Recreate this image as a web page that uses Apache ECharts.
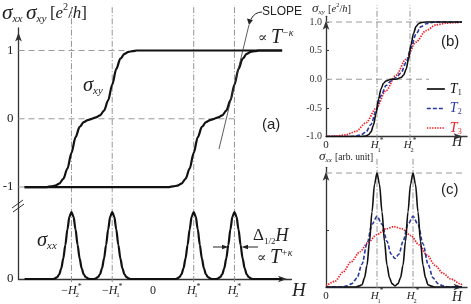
<!DOCTYPE html>
<html><head><meta charset="utf-8">
<script src="https://cdn.jsdelivr.net/npm/echarts@6/dist/echarts.min.js"></script>
<style>html,body{margin:0;padding:0;background:#fff}#c{width:471px;height:304px}</style>
</head><body><div id="c"></div>
<script>
// ================= DATA =================
// Panel (a): field axis, H*-positions in units of the axis
const aTickValues = [-2, -1, 0, 1, 2];
const aTickLabels = ['-H2*', '-H1*', '0', 'H1*', 'H2*'];
const aMarks = [-2, -1, 1, 2];
const aYTicks = [-1, 0, 1];
const aRefOne = [[-3.3, 1], [-0.7, 1]];
const aRefZero = [[-3.3, 0], [2.0, 0]];
const aRefMinus = [[-3.3, -1], [-3.1, -1]];
// sigma_xy, sweep with transitions at -H2*, -H1*
const sxyUp = [[-3.15,-1],[-2.6,-1],[-2.5,-0.99],[-2.4,-0.98],[-2.3,-0.95],[-2.2,-0.88],[-2.1,-0.73],[-2.0,-0.5],
  [-1.9,-0.27],[-1.8,-0.12],[-1.7,-0.05],[-1.6,-0.02],[-1.5,0],[-1.4,0.02],[-1.3,0.05],[-1.2,0.12],[-1.1,0.27],
  [-1.0,0.5],[-0.9,0.73],[-0.8,0.88],[-0.7,0.95],[-0.6,0.98],[-0.5,0.99],[-0.4,1],[3.17,1]];
// sigma_xy, sweep with transitions at H1*, H2*
const sxyDown = [[-3.15,-1],[0.4,-1],[0.5,-0.99],[0.6,-0.98],[0.7,-0.95],[0.8,-0.88],[0.9,-0.73],[1.0,-0.5],
  [1.1,-0.27],[1.2,-0.12],[1.3,-0.05],[1.4,-0.02],[1.5,0],[1.6,0.02],[1.7,0.05],[1.8,0.12],[1.9,0.27],
  [2.0,0.5],[2.1,0.73],[2.2,0.88],[2.3,0.95],[2.4,0.98],[2.5,0.99],[2.6,1],[3.17,1]];
// tangent ("SLOPE") line end points
const slopeLine = [[2.356, 1.374], [1.62, -0.443]];
// sigma_xx peaks
const sxxA = [[-3.15,0],[-2.45,0],[-2.4,0.01],[-2.35,0.03],[-2.3,0.07],[-2.25,0.16],[-2.2,0.31],[-2.15,0.51],[-2.1,0.74],[-2.05,0.93],[-2,1],
  [-1.95,0.93],[-1.9,0.74],[-1.85,0.51],[-1.8,0.31],[-1.75,0.16],[-1.7,0.07],[-1.65,0.03],[-1.6,0.01],[-1.55,0],
  [-1.45,0],[-1.4,0.01],[-1.35,0.03],[-1.3,0.07],[-1.25,0.16],[-1.2,0.31],[-1.15,0.51],[-1.1,0.74],[-1.05,0.93],[-1,1],
  [-0.95,0.93],[-0.9,0.74],[-0.85,0.51],[-0.8,0.31],[-0.75,0.16],[-0.7,0.07],[-0.65,0.03],[-0.6,0.01],[-0.55,0],
  [0.55,0],[0.6,0.01],[0.65,0.03],[0.7,0.07],[0.75,0.16],[0.8,0.31],[0.85,0.51],[0.9,0.74],[0.95,0.93],[1,1],
  [1.05,0.93],[1.1,0.74],[1.15,0.51],[1.2,0.31],[1.25,0.16],[1.3,0.07],[1.35,0.03],[1.4,0.01],[1.45,0],
  [1.55,0],[1.6,0.01],[1.65,0.03],[1.7,0.07],[1.75,0.16],[1.8,0.31],[1.85,0.51],[1.9,0.74],[1.95,0.93],[2,1],
  [2.05,0.93],[2.1,0.74],[2.15,0.51],[2.2,0.31],[2.25,0.16],[2.3,0.07],[2.35,0.03],[2.4,0.01],[2.45,0],[3.17,0]];

// Panel (b)
const bTickValues = [0, 5.1, 8.4];
const bTickLabels = ['0', 'H1*', 'H2*'];
const bMarks = [5.1, 8.4];
const bYTicks = [-1, -0.5, 0, 0.5, 1];
const bRefOne = [[0, 1], [13.5, 1]];
const bRefZero = [[0, 0], [10.3, 0]];
const bT1 = [[0,-1],[3,-1],[3.5,-1],[4,-0.99],[4.25,-0.97],[4.5,-0.92],[4.75,-0.8],[5,-0.6],[5.25,-0.35],[5.5,-0.17],
  [5.75,-0.07],[6,-0.03],[6.5,0],[7,0],[7.5,0.03],[7.75,0.07],[8,0.17],[8.25,0.35],[8.5,0.6],[8.75,0.8],[9,0.92],
  [9.25,0.97],[9.5,0.99],[10,1],[13.6,1]];
const bT2 = [[0,-1],[2,-1],[2.5,-1],[3,-0.99],[3.5,-0.97],[4,-0.92],[4.5,-0.79],[5,-0.55],[5.5,-0.29],[6,-0.11],
  [6.5,-0.03],[7,0.03],[7.5,0.11],[8,0.29],[8.5,0.55],[9,0.79],[9.5,0.92],[10,0.97],[10.5,0.99],[11,1],[13.6,1]];
const bT3 = [[0,-1],[1,-0.99],[2,-0.97],[3,-0.91],[4,-0.76],[5,-0.51],[6,-0.2],[7,0.07],[8,0.35],[9,0.65],[10,0.85],
  [11,0.95],[12,0.98],[13,0.99],[13.6,1]];

// Panel (c)
const cTickValues = [0, 5.1, 8.7];
const cTickLabels = ['0', 'H1*', 'H2*'];
const cMarks = [5.1, 8.7];
const cYTicks = [0.5];
const cRefOne = [[0, 1], [14, 1]];
const cT1 = [[0,0],[2.9,0],[3.35,0.01],[3.6,0.02],[3.85,0.08],[4.1,0.19],[4.35,0.4],[4.6,0.66],[4.85,0.9],[5.1,1],
  [5.35,0.9],[5.6,0.66],[5.85,0.4],[6.1,0.19],[6.35,0.08],[6.6,0.03],[6.9,0.01],[7.2,0.03],[7.45,0.08],[7.7,0.19],
  [7.95,0.4],[8.2,0.66],[8.45,0.9],[8.7,1],[8.95,0.9],[9.2,0.66],[9.45,0.4],[9.7,0.19],[9.95,0.08],[10.2,0.02],
  [10.45,0.01],[10.9,0],[13.6,0]];
const cT2 = [[0,0],[1.1,0],[1.6,0],[2.1,0.01],[2.6,0.03],[3.1,0.08],[3.6,0.2],[4.1,0.38],[4.6,0.55],[5.1,0.62],
  [5.6,0.55],[6.1,0.4],[6.5,0.29],[6.9,0.25],[7.3,0.29],[7.7,0.4],[8.2,0.55],[8.7,0.62],[9.2,0.55],[9.7,0.38],
  [10.2,0.2],[10.7,0.08],[11.2,0.03],[11.7,0.01],[12.2,0],[13.6,0]];
const cT3 = [[0,0.01],[0.9,0.05],[1.7,0.13],[2.5,0.22],[3.4,0.31],[4.2,0.39],[5.1,0.46],[6.0,0.51],[6.8,0.53],
  [7.6,0.51],[8.5,0.45],[9.3,0.37],[10.1,0.28],[10.9,0.19],[11.7,0.12],[12.5,0.07],[13.4,0.03],[13.6,0.02]];
const seriesNames = ['T1', 'T2', 'T3'];

// ================= STYLE =================
const SERIF = "'Liberation Serif','DejaVu Serif',serif";
const SANS = "'Liberation Sans','DejaVu Sans',sans-serif";
const TXT = '#222';
const AX = '#333';
const COL = {T1: '#111111', T2: '#2a38a0', T3: '#ee1c24'};
const DASH = {color: '#9a9a9a', width: 1, type: [6, 4]};
const DASHDOT = {color: '#8a8a8a', width: 0.9, type: [6, 2, 1.2, 2]};

function hLabel(lbl) {
  if (lbl === '0') return '{z|0}';
  const neg = lbl[0] === '-';
  const n = lbl.replace(/[^0-9]/g, '');
  return (neg ? '{m|−}' : '') + '{h|H}{s|' + n + '}{p|*}';
}
function richH(fs) {
  return {
    z: {fontFamily: SERIF, fontSize: fs, lineHeight: 16, color: TXT},
    m: {fontFamily: SERIF, fontSize: fs, lineHeight: 16, color: TXT},
    h: {fontFamily: SERIF, fontStyle: 'italic', fontSize: fs, lineHeight: 16, color: TXT},
    s: {fontFamily: SERIF, fontSize: fs * 0.58, lineHeight: 8, verticalAlign: 'bottom', width: 1, color: TXT},
    p: {fontFamily: SERIF, fontSize: fs * 0.66, lineHeight: 8, verticalAlign: 'top', color: TXT}
  };
}
function lookup(vals, labels) {
  return v => { const i = vals.findIndex(t => Math.abs(t - v) < 1e-6); return i < 0 ? '' : hLabel(labels[i]); };
}
const arrowLine = (arrow) => ({show: true, onZero: false, symbol: arrow ? ['none', 'arrow'] : 'none',
  symbolSize: [5, 9], symbolOffset: [0, -4.5], lineStyle: {color: AX, width: 1.3}});
const hidden = {show: false};

// grids
const G = {
  aTop: {left: 18.5, top: 28, width: 273, height: 176.1},
  aBot: {left: 18.5, top: 203.96, width: 273, height: 75.04},
  aOv:  {left: 18.5, top: 5, width: 273, height: 277},
  b:    {left: 326, top: 16.3, width: 141, height: 120.2},
  bOv:  {left: 326, top: 5, width: 141, height: 135},
  c:    {left: 326, top: 167.3, width: 141, height: 119.7},
  cOv:  {left: 326, top: 157, width: 141, height: 131}
};
const gridList = Object.values(G).map(g => Object.assign({outerBoundsMode: 'none', containLabel: false}, g));

const xAxis = [
  {gridIndex: 0, type: 'value', min: -3.3, max: 3.4, show: false},
  {gridIndex: 1, type: 'value', min: -3.3, max: 3.4, axisLine: arrowLine(true), axisTick: hidden, splitLine: hidden,
    axisLabel: {customValues: aTickValues, formatter: lookup(aTickValues, aTickLabels), margin: 4, rich: richH(12)}},
  {gridIndex: 2, type: 'value', min: -3.3, max: 3.4, show: false},
  {gridIndex: 3, type: 'value', min: 0, max: 14.1, axisLine: arrowLine(true), axisTick: hidden, splitLine: hidden,
    axisLabel: {customValues: bTickValues, formatter: lookup(bTickValues, bTickLabels), margin: 1, rich: richH(11)}},
  {gridIndex: 4, type: 'value', min: 0, max: 14.1, show: false},
  {gridIndex: 5, type: 'value', min: 0, max: 14.1, axisLine: arrowLine(true), axisTick: hidden, splitLine: hidden,
    axisLabel: {customValues: cTickValues, formatter: lookup(cTickValues, cTickLabels), margin: 1, rich: richH(11)}},
  {gridIndex: 6, type: 'value', min: 0, max: 14.1, show: false}
];
const yAxis = [
  {gridIndex: 0, type: 'value', min: -1.25, max: 1.33, axisLine: arrowLine(true), axisTick: hidden, splitLine: hidden,
    axisLabel: {customValues: aYTicks, formatter: v => String(v), fontFamily: SERIF, fontSize: 13, color: TXT, margin: 5}},
  {gridIndex: 1, type: 'value', min: 0, max: 1.12, axisLine: arrowLine(false), axisTick: hidden, splitLine: hidden,
    axisLabel: {customValues: [0], formatter: v => String(v), fontFamily: SERIF, fontSize: 13, color: TXT, margin: 5}},
  {gridIndex: 2, type: 'value', min: 0, max: 1, show: false},
  {gridIndex: 3, type: 'value', min: -1, max: 1.1, axisLine: arrowLine(true), splitLine: hidden,
    axisTick: {show: true, inside: true, length: 3, customValues: bYTicks, lineStyle: {color: AX}},
    axisLabel: {customValues: bYTicks, formatter: v => v.toFixed(1), fontFamily: SERIF, fontSize: 10, color: '#333', margin: 4}},
  {gridIndex: 4, type: 'value', min: 0, max: 1, show: false},
  {gridIndex: 5, type: 'value', min: 0, max: 1.05, axisLine: arrowLine(true), splitLine: hidden,
    axisTick: {show: true, inside: true, length: 3, customValues: cYTicks, lineStyle: {color: AX}},
    axisLabel: {show: false}},
  {gridIndex: 6, type: 'value', min: 0, max: 1, show: false}
];

function ln(data, xi, style, extra) {
  return Object.assign({type: 'line', data: data, xAxisIndex: xi, yAxisIndex: xi, symbol: 'none',
    lineStyle: style, silent: true, animation: false}, extra || {});
}
const SM = {smooth: 0.3, smoothMonotone: 'x'};
const series = [];
// panel (a)
series.push(ln(aRefOne, 0, DASH), ln(aRefZero, 0, DASH), ln(aRefMinus, 0, DASH));
aMarks.forEach(m => series.push(ln([[m, 0], [m, 1]], 2, DASHDOT)));
series.push(ln(sxyUp, 0, {color: '#111', width: 2.2}, SM));
series.push(ln(sxyDown, 0, {color: '#111', width: 2.2}, SM));
series.push(ln(slopeLine, 0, {color: '#333', width: 0.8}, {clip: false}));
series.push(ln(sxxA, 1, {color: '#111', width: 2.2}, SM));
// panel (b)
series.push(ln(bRefOne, 3, DASH), ln(bRefZero, 3, DASH));
bMarks.forEach(m => series.push(ln([[m, 0], [m, 1]], 4, DASHDOT)));
const bData = [bT3, bT2, bT1];
const cData = [cT3, cT2, cT1];
const lineStyles = {
  T1: {color: COL.T1, width: 1.6, type: 'solid'},
  T2: {color: COL.T2, width: 1.6, type: [4, 2]},
  T3: {color: COL.T3, width: 1.7, type: [1.4, 1.2]}
};
['T3', 'T2', 'T1'].forEach((n, i) => series.push(ln(bData[i], 3, lineStyles[n],
  Object.assign({name: n, itemStyle: {color: COL[n]}}, SM))));
// panel (c)
series.push(ln(cRefOne, 5, DASH));
cMarks.forEach(m => series.push(ln([[m, 0], [m, 1]], 6, DASHDOT)));
['T3', 'T2', 'T1'].forEach((n, i) => series.push(ln(cData[i], 5, lineStyles[n],
  Object.assign({name: n, itemStyle: {color: COL[n]}}, SM))));

// ============ annotations (text) ============
const richMath = {
  g: {fontFamily: SERIF, fontStyle: 'italic', fontSize: 19, lineHeight: 20, fill: TXT},
  sb: {fontFamily: SERIF, fontStyle: 'italic', fontSize: 10, lineHeight: 10, verticalAlign: 'bottom', fill: TXT},
  r: {fontFamily: SERIF, fontSize: 15, lineHeight: 20, fill: TXT},
  i: {fontFamily: SERIF, fontStyle: 'italic', fontSize: 15, lineHeight: 20, fill: TXT},
  sp: {fontFamily: SERIF, fontSize: 9, lineHeight: 10, verticalAlign: 'top', fill: TXT}
};
function scaled(k) {
  const o = {};
  for (const key in richMath) {
    const s = Object.assign({}, richMath[key]);
    s.fontSize = s.fontSize * k; s.lineHeight = s.lineHeight * k; o[key] = s;
  }
  return o;
}
function txt(x, y, text, rich, extra) {
  return {type: 'text', x: x, y: y, silent: true,
    style: Object.assign({text: text, rich: rich, fill: TXT, align: 'left', verticalAlign: 'top'}, extra || {})};
}
const powRich = {
  r: {fontFamily: SERIF, fontSize: 14, lineHeight: 20, fill: TXT},
  i: {fontFamily: SERIF, fontStyle: 'italic', fontSize: 20, lineHeight: 20, fill: TXT},
  sp: {fontFamily: SERIF, fontStyle: 'italic', fontSize: 10, lineHeight: 10, verticalAlign: 'top', fill: TXT}
};
const graphic = [
  txt(2, 2, '{g|σ}{sb|xx} {g|σ}{sb|xy} {r|[}{i|e}{sp|2}{r|/}{i|h}{r|]}', scaled(1.13)),
  txt(312, 2, '{g|σ}{sb|xy} {r|[}{i|e}{sp|2}{r|/}{i|h}{r|]}', scaled(0.7)),
  txt(319, 150, '{g|σ}{sb|xx} {r|[arb. unit]}', Object.assign(scaled(0.7), {r: {fontFamily: SERIF, fontSize: 9.5, lineHeight: 14, fill: TXT}})),
  txt(83, 75, '{g|σ}{sb|xy}', scaled(1.08)),
  txt(37, 230, '{g|σ}{sb|xx}', scaled(1.08)),
  txt(253, 226, '{r|Δ}{sb|1/2}{i|H}', {
    r: {fontFamily: SERIF, fontSize: 17, lineHeight: 20, fill: TXT},
    sb: {fontFamily: SERIF, fontSize: 9, lineHeight: 10, verticalAlign: 'bottom', fill: TXT},
    i: {fontFamily: SERIF, fontStyle: 'italic', fontSize: 18, lineHeight: 20, fill: TXT}}),
  txt(257, 248, '{r|∝ }{i|T}{sp|+κ}', powRich),
  txt(258, 28, '{r|∝ }{i|T}{sp|−κ}', powRich),
  txt(262, 6, 'SLOPE', null, {font: '12px ' + SANS}),
  txt(262, 117, '(a)', null, {font: '15px ' + SANS}),
  txt(441, 34, '(b)', null, {font: '15px ' + SANS}),
  txt(441, 182, '(c)', null, {font: '15px ' + SANS}),
  txt(292, 281, 'H', null, {font: 'italic 19px ' + SERIF}),
  txt(452, 135, 'H', null, {font: 'italic 14px ' + SERIF}),
  txt(452, 290, 'H', null, {font: 'italic 14px ' + SERIF}),
  // SLOPE arrow
  {type: 'bezierCurve', silent: true, shape: {x1: 262, y1: 12, cpx1: 255, cpy1: 12, x2: 251, y2: 19},
    style: {stroke: '#222', lineWidth: 1, fill: null}},
  {type: 'polygon', silent: true, shape: {points: [[249, 25], [247, 18.5], [253, 20]]}, style: {fill: '#222'}},
  // width arrows
  {type: 'line', silent: true, shape: {x1: 213, y1: 247, x2: 224, y2: 247}, style: {stroke: '#222', lineWidth: 1}},
  {type: 'polygon', silent: true, shape: {points: [[228.5, 247], [222, 244.8], [222, 249.2]]}, style: {fill: '#222'}},
  {type: 'line', silent: true, shape: {x1: 258, y1: 247, x2: 246, y2: 247}, style: {stroke: '#222', lineWidth: 1}},
  {type: 'polygon', silent: true, shape: {points: [[241.5, 247], [248, 244.8], [248, 249.2]]}, style: {fill: '#222'}},
  // axis break
  {type: 'line', silent: true, shape: {x1: 12, y1: 208, x2: 23, y2: 200}, style: {stroke: '#333', lineWidth: 1}},
  {type: 'line', silent: true, shape: {x1: 13, y1: 212, x2: 24, y2: 204}, style: {stroke: '#333', lineWidth: 1}}
];

const chart = echarts.init(document.getElementById('c'), null, {renderer: 'canvas'});
chart.setOption({
  animation: false,
  backgroundColor: '#fff',
  grid: gridList,
  xAxis: xAxis,
  yAxis: yAxis,
  series: series,
  legend: {
    orient: 'vertical', left: 426, top: 82, itemWidth: 18, itemHeight: 9, itemGap: 5, padding: 0,
    selectedMode: false,
    itemStyle: {opacity: 0},
    lineStyle: {width: 1.7},
    data: [
      {name: 'T1', textStyle: {color: COL.T1}},
      {name: 'T2', textStyle: {color: COL.T2}},
      {name: 'T3', textStyle: {color: COL.T3}}
    ],
    formatter: n => '{t|T}{s|' + n.slice(1) + '}',
    textStyle: {rich: {
      t: {fontFamily: SERIF, fontStyle: 'italic', fontSize: 14, lineHeight: 15},
      s: {fontFamily: SERIF, fontSize: 8, lineHeight: 8, verticalAlign: 'bottom'}
    }}
  },
  graphic: graphic
});
</script></body></html>
